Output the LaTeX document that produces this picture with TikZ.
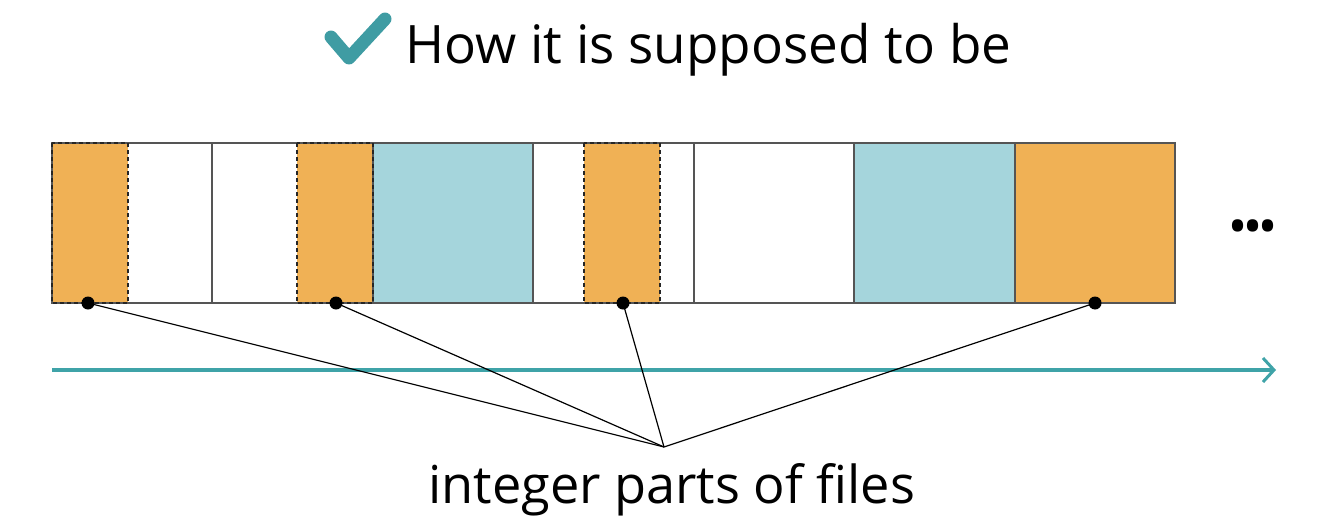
\documentclass[tikz,border=0pt]{standalone}
\usepackage{fontspec}
\setmainfont{Open Sans}
\usetikzlibrary{arrows.meta}
\definecolor{orangefill}{HTML}{F0B155}
\definecolor{tealfill}{HTML}{A5D5DC}
\definecolor{tealline}{HTML}{3FA3A8}
\definecolor{checkcol}{HTML}{3F9CA3}
\definecolor{framecol}{HTML}{555555}
\tikzset{
  seg/.style={anchor=north west, inner sep=0pt, outer sep=0pt, minimum height=160pt, draw=none},
  dashbox/.style={draw=black!85, dashed, dash pattern=on 4pt off 3pt, line width=1.2pt},
  frame/.style={draw=framecol, line width=1.4pt},
  divider/.style={draw=framecol, line width=1.4pt},
  dotmark/.style={circle, fill=black, inner sep=0pt, minimum size=13pt},
  leader/.style={draw=black, line width=1.2pt},
  timeline/.style={draw=tealline, line width=3.5pt, -{Straight Barb[length=11pt,width=24pt,line width=3pt]}},
  lbl/.style={inner sep=0pt, anchor=base west}
}
\begin{document}
\begin{tikzpicture}[x=1pt,y=-1pt]
\useasboundingbox (0,0) rectangle (1322,522);
% segments
\node[seg, fill=orangefill, minimum width=76pt] (s1) at (52,143) {};
\node[seg, fill=white, minimum width=84pt] (s2) at (128,143) {};
\node[seg, fill=white, minimum width=85pt] (s3) at (212,143) {};
\node[seg, fill=orangefill, minimum width=76pt] (s4) at (297,143) {};
\node[seg, fill=tealfill, minimum width=160pt] (s5) at (373,143) {};
\node[seg, fill=white, minimum width=51pt] (s6) at (533,143) {};
\node[seg, fill=orangefill, minimum width=76pt] (s7) at (584,143) {};
\node[seg, fill=white, minimum width=34pt] (s8) at (660,143) {};
\node[seg, fill=white, minimum width=160pt] (s9) at (694,143) {};
\node[seg, fill=tealfill, minimum width=161pt] (s10) at (854,143) {};
\node[seg, fill=orangefill, minimum width=160pt] (s11) at (1015,143) {};
% frame and dividers
\draw[frame] (s1.north west) rectangle (s11.south east);
\foreach \n in {s3,s5,s6,s9,s10,s11} \draw[divider] (\n.north west) -- (\n.south west);
\foreach \n in {s1,s4,s7} \draw[dashbox] (\n.north west) rectangle (\n.south east);
% ellipsis
\node[inner sep=0pt] (more) at (1253,230) {\fontsize{40}{40}\selectfont\textbf{•••}};
% timeline
\coordinate (tstart) at (52,370);
\coordinate (tend) at (1276,370);
\draw[timeline] (tstart) -- (tend);
% dots and leaders
\coordinate (conv) at (664,447);
\node[dotmark] (d1) at (88,303) {};
\node[dotmark] (d2) at (336,303) {};
\node[dotmark] (d3) at (623,303) {};
\node[dotmark] (d4) at (1095,303) {};
\foreach \d in {d1,d2,d3,d4} \draw[leader] (\d.center) -- (conv);
% labels
\node[lbl] (title) at (405,63) {\fontsize{53}{53}\selectfont How it is supposed to be};
\draw[checkcol, line width=13pt, line cap=round, line join=round] (331,37) -- (349,58) -- (385,19);
\node[lbl] (caption) at (428,503) {\fontsize{52.3}{52.3}\selectfont integer parts of files};
\end{tikzpicture}
\end{document}
